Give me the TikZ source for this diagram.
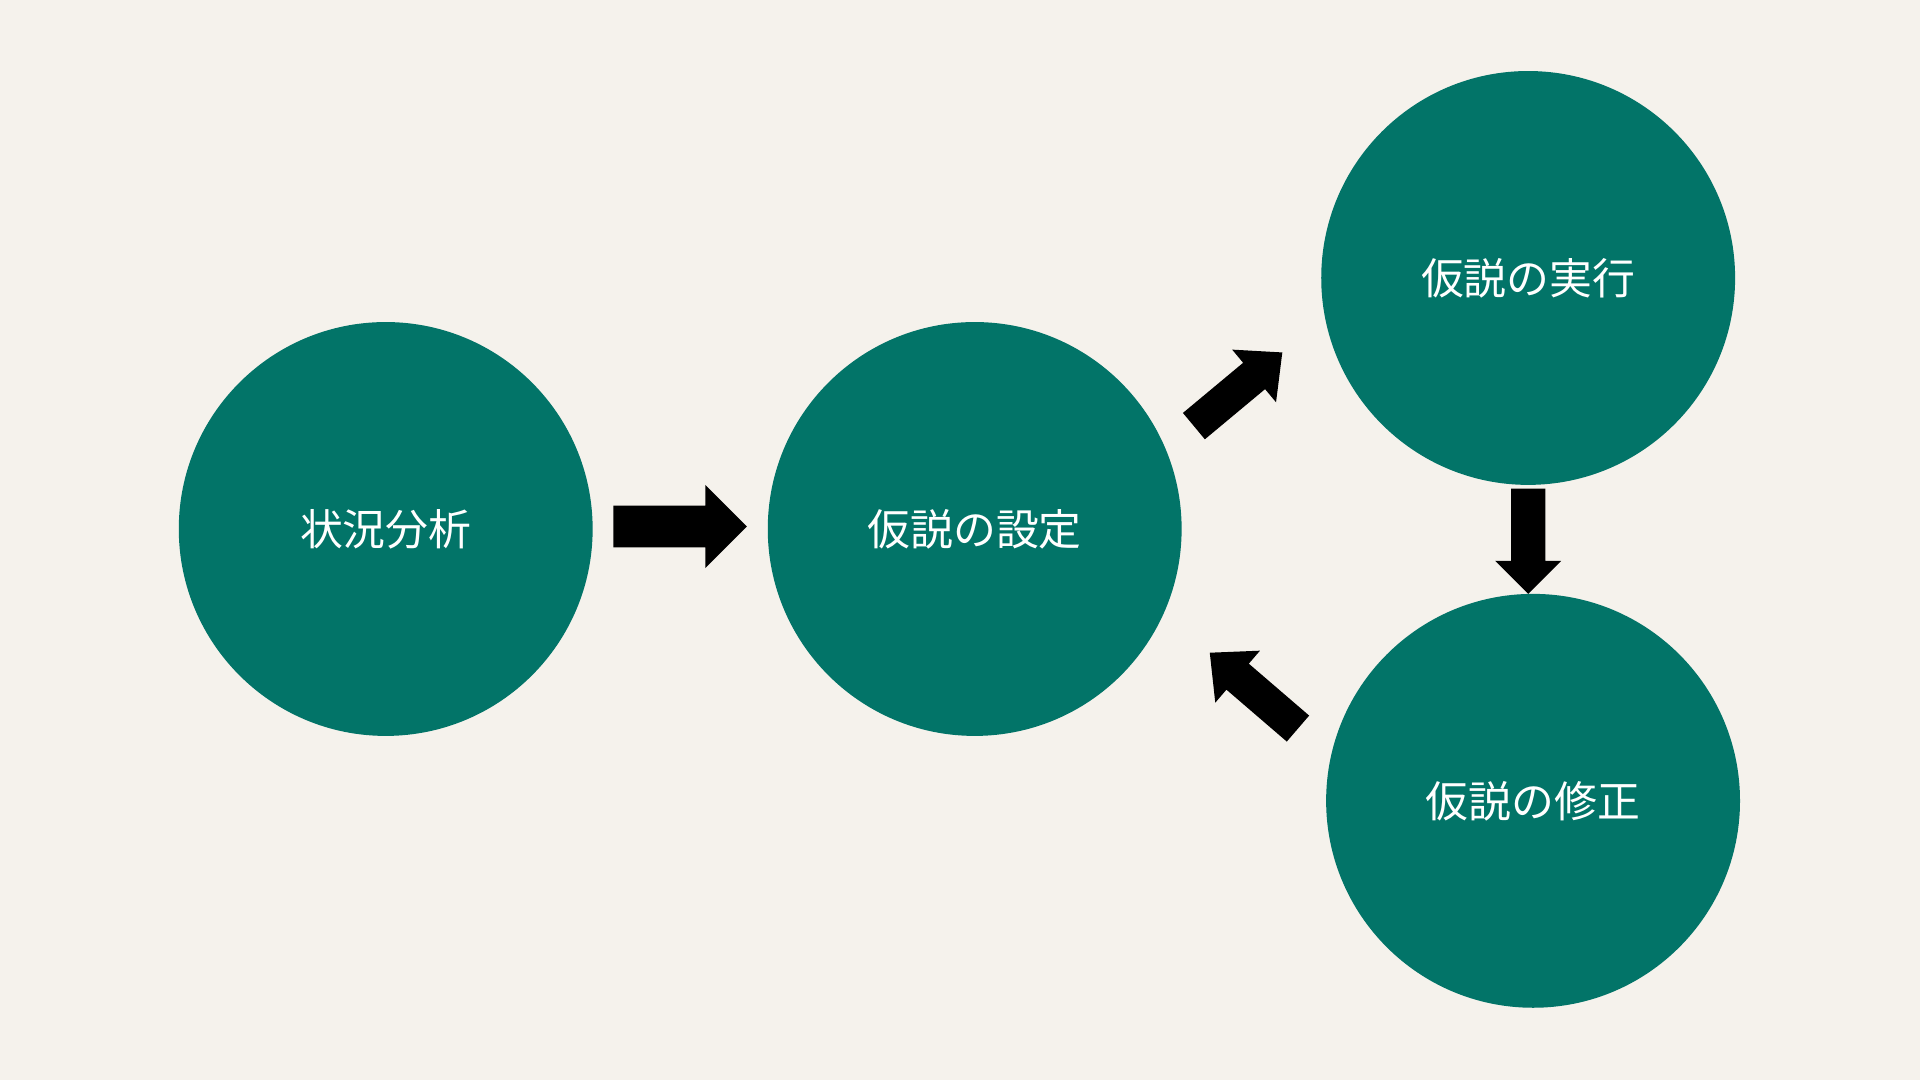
\documentclass[tikz,border=0pt]{standalone}
\usepackage{fontspec}
\newfontfamily\cjk{Noto Sans CJK JP}
\definecolor{bg}{HTML}{F5F2EC}
\definecolor{teal}{HTML}{027468}
\newcommand{\blockarrow}[6]{% tail, angle, len, shaft half, head half, head len
\begin{scope}[shift={#1},rotate=#2]
\fill[black] (0,-#4) -- ({#3-#6},-#4) -- ({#3-#6},-#5) -- (#3,0) -- ({#3-#6},#5) -- ({#3-#6},#4) -- (0,#4) -- cycle;
\end{scope}}
\begin{document}
\begin{tikzpicture}[x=1pt,y=-1pt,
  stage/.style={circle,fill=teal,minimum size=338pt,inner sep=0pt,text=white,font=\cjk\fontsize{35pt}{40pt}\selectfont}]
\fill[bg] (0,0) rectangle (1568,882);
\useasboundingbox (0,0) rectangle (1568,882);
\node[stage] (a) at (315,432) {状況分析};
\node[stage] (b) at (796,432) {仮説の設定};
\node[stage] (c) at (1248,227) {仮説の実行};
\node[stage] (d) at (1252,654) {仮説の修正};
\blockarrow{(501,430)}{0}{109}{17}{34}{34}
\blockarrow{(975,348)}{39.8}{94}{14}{28}{30}
\blockarrow{(1248,399)}{-90}{86}{14}{27}{27}
\blockarrow{(1060,595)}{139.3}{95}{14}{28}{30}
\end{tikzpicture}
\end{document}
